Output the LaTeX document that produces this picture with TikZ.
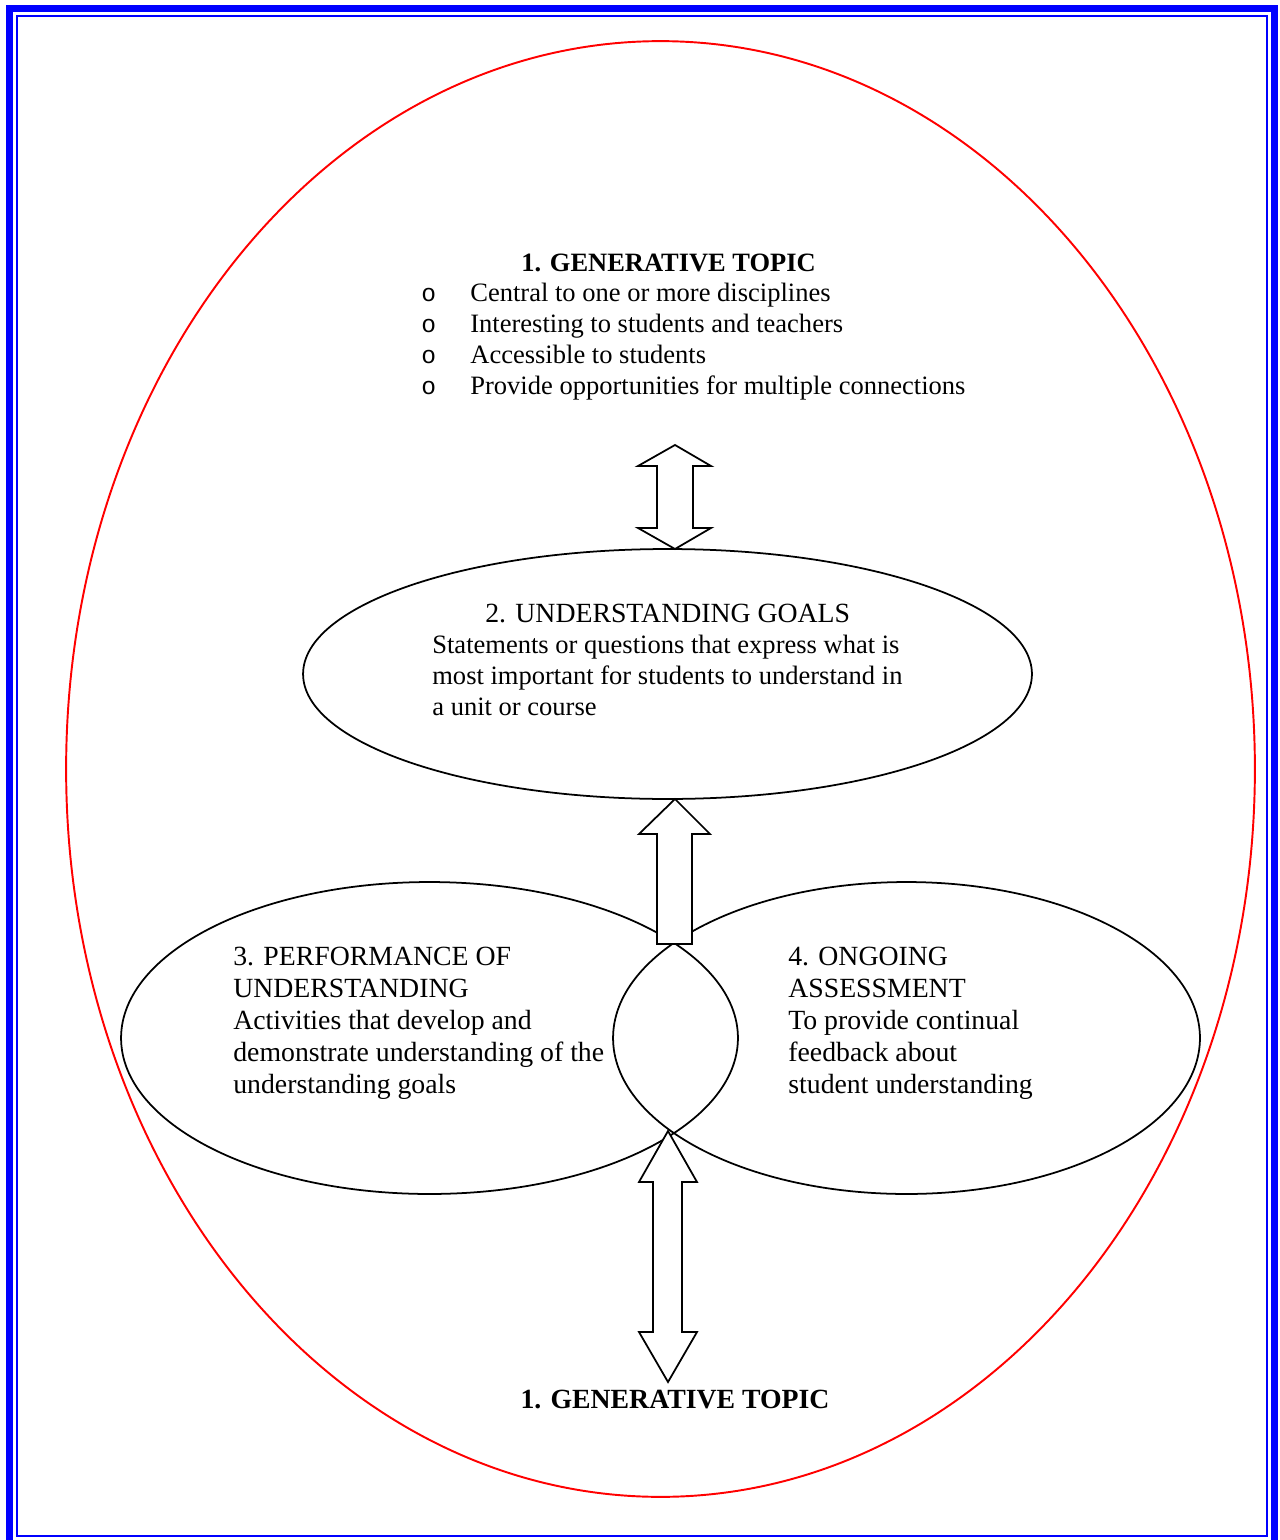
\documentclass[tikz,border=0pt]{standalone}
\usepackage{fontspec}
\setmainfont{Liberation Serif}
\newfontfamily\bulletfont{Liberation Mono}
\usetikzlibrary{shapes.geometric}
\begin{document}
\begin{tikzpicture}[x=0.02cm,y=-0.02cm,
  txt/.style={anchor=base west,inner sep=0pt,font=\fontsize{15.1}{18}\selectfont},
  txtb/.style={anchor=base west,inner sep=0pt,font=\fontsize{15.8}{18}\selectfont},
  ttl/.style={anchor=base,inner sep=0pt,font=\fontsize{15.05}{18}\selectfont\bfseries},
  bigttl/.style={anchor=base,inner sep=0pt,font=\fontsize{15.8}{18}\selectfont\bfseries},
  bul/.style={anchor=base west,inner sep=0pt,font=\bulletfont\fontsize{14}{16}\selectfont},
  oval/.style={ellipse,draw=black,line width=1pt,inner sep=0pt},
  blockarrow/.style={draw=black,fill=white,line width=1pt,line join=miter}]
\path[use as bounding box] (0,0) rectangle (1279,1540);
\clip (0,0) rectangle (1279,1540);
% frame
\draw[blue,line width=3.97pt] (9.5,8.5) rectangle (1274.5,1543.5);
\draw[blue,line width=1.2pt] (17,16) rectangle (1267,1536);
% outer red ellipse
\node[ellipse,draw=red,line width=1.1pt,inner sep=0pt,minimum width=23.78cm,minimum height=29.12cm] (outer) at (660.5,769) {};
% ellipses
\node[oval,minimum width=14.58cm,minimum height=5cm] (g2) at (667.5,674) {};
\node[oval,minimum width=12.34cm,minimum height=6.24cm] (g3) at (429.5,1038) {};
\node[oval,minimum width=11.74cm,minimum height=6.24cm] (g4) at (906.5,1038) {};
% block arrows
\draw[blockarrow] (675,445) -- (711,466) -- (693,466) -- (693,528) -- (711,528) -- (675,549)
  -- (638,528) -- (657,528) -- (657,466) -- (638,466) -- cycle;
\draw[blockarrow] (675,799) -- (710,834) -- (692,834) -- (692,944) -- (657,944) -- (657,834)
  -- (639,834) -- cycle;
\draw[blockarrow] (668,1131) -- (697,1182) -- (682,1182) -- (682,1332) -- (697,1332) -- (668,1382)
  -- (639,1332) -- (653,1332) -- (653,1182) -- (639,1182) -- cycle;
% top text
\node[ttl] (t1) at (668.5,272) {1. GENERATIVE TOPIC};
\node[bul] (b1) at (421,302) {o};
\node[bul] (b2) at (421,333) {o};
\node[bul] (b3) at (421,364) {o};
\node[bul] (b4) at (421,395) {o};
\node[txt] (i1) at (470,302) {Central to one or more disciplines};
\node[txt] (i2) at (470,333) {Interesting to students and teachers};
\node[txt] (i3) at (470,364) {Accessible to students};
\node[txt] (i4) at (470,395) {Provide opportunities for multiple connections};
% goals
\node[txtb] (u1) at (485,622) {2. UNDERSTANDING GOALS};
\node[txt] (u2) at (432,653) {Statements or questions that express what is};
\node[txt] (u3) at (432,684) {most important for students to understand in};
\node[txt] (u4) at (432,715) {a unit or course};
% performance
\node[txtb] (p1) at (233,965) {3. PERFORMANCE OF};
\node[txtb] (p2) at (233,997) {UNDERSTANDING};
\node[txtb] (p3) at (233,1029) {Activities that develop and};
\node[txtb] (p4) at (233,1061) {demonstrate understanding of the};
\node[txtb] (p5) at (233,1093) {understanding goals};
% assessment
\node[txtb] (a1) at (788,965) {4. ONGOING};
\node[txtb] (a2) at (788,997) {ASSESSMENT};
\node[txtb] (a3) at (788,1029) {To provide continual};
\node[txtb] (a4) at (788,1061) {feedback about};
\node[txtb] (a5) at (788,1093) {student understanding};
% bottom title
\node[bigttl] (t2) at (675,1408) {1. GENERATIVE TOPIC};
\end{tikzpicture}
\end{document}
